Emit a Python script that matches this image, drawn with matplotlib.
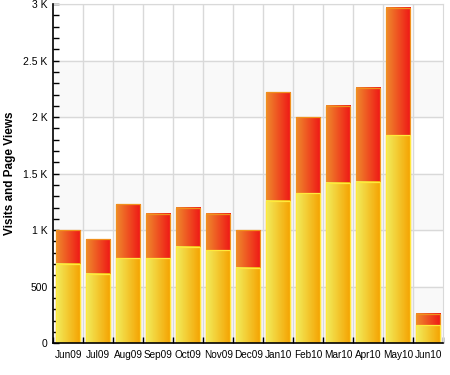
import numpy as np
import matplotlib
matplotlib.use("Agg")
import matplotlib.pyplot as plt
from matplotlib.colors import LinearSegmentedColormap
from matplotlib.ticker import MultipleLocator, FuncFormatter

plt.rcParams['font.family'] = ['Liberation Sans', 'DejaVu Sans']

months = ["Jun09", "Jul09", "Aug09", "Sep09", "Oct09", "Nov09", "Dec09",
          "Jan10", "Feb10", "Mar10", "Apr10", "May10", "Jun10"]
page_views = [1000, 920, 1230, 1142, 1195, 1142, 1000,
              2220, 2000, 2100, 2260, 2970, 257]
visits = [700, 611, 752, 752, 850, 823, 664,
          1257, 1327, 1416, 1425, 1840, 159]

red_cmap = LinearSegmentedColormap.from_list("red", ["#ef8a2c", "#ee1616"])
yellow_cmap = LinearSegmentedColormap.from_list("yellow", ["#f2ec5c", "#f5a200"])
grad = np.linspace(0, 1, 64).reshape(1, -1)


def fill_gradient(ax, bars, cmap, edge, z):
    for b in bars:
        x0, w, h = b.get_x(), b.get_width(), b.get_height()
        ax.imshow(grad, cmap=cmap, extent=(x0, x0 + w, 0, h), aspect="auto",
                  interpolation="bilinear", zorder=z, origin="lower")
        ax.add_patch(plt.Rectangle((x0, 0), w, h, fill=False, edgecolor=edge,
                                   linewidth=0.9, zorder=z + 0.1))


fig = plt.figure(figsize=(4.5, 3.75), dpi=100)
ax = fig.add_axes([0.118, 0.085, 0.867, 0.904])

x = np.arange(len(months))
pv_bars = ax.bar(x, page_views, width=0.8, alpha=0)
v_bars = ax.bar(x, visits, width=0.8, alpha=0)
fill_gradient(ax, pv_bars, red_cmap, "#f0901e", 3)
fill_gradient(ax, v_bars, yellow_cmap, "#ffe93c", 4)

ax.set_xlim(-0.5, len(months) - 0.5)
ax.set_ylim(0, 3000)

# alternating background bands
for lo in range(0, 3000, 1000):
    ax.axhspan(lo, lo + 500, color="#f9f9f9", zorder=0)

for yv in range(500, 3001, 500):
    ax.axhline(yv, color="#d9d9d9", linewidth=1, zorder=1)
for xv in np.arange(0.5, len(months) - 0.5, 1):
    ax.axvline(xv, color="#d9d9d9", linewidth=1, zorder=1)

ax.set_xticks(x)
ax.set_xticklabels(months, fontsize=7.2)
ax.set_xticks(np.arange(-0.5, len(months), 1), minor=True)
ax.tick_params(axis="x", which="major", length=0, pad=5)
ax.tick_params(axis="x", which="minor", direction="in", length=4, width=1)

ax.yaxis.set_major_locator(MultipleLocator(500))
ax.yaxis.set_minor_locator(MultipleLocator(100))
ax.yaxis.set_major_formatter(FuncFormatter(
    lambda v, p: "0" if v == 0 else ("%g K" % (v / 1000) if v >= 1000 else "%d" % v)))
ax.tick_params(axis="y", which="both", direction="in", length=4, width=1,
               labelsize=7.5, pad=4)
ax.set_ylabel("Visits and Page Views", fontsize=8.5, fontweight="bold", labelpad=5)

for side in ["top", "right"]:
    ax.spines[side].set_color("#d9d9d9")
for side in ["left", "bottom"]:
    ax.spines[side].set_color("black")
    ax.spines[side].set_linewidth(1.2)
    ax.spines[side].set_zorder(6)

fig.savefig("out.png", dpi=100)
